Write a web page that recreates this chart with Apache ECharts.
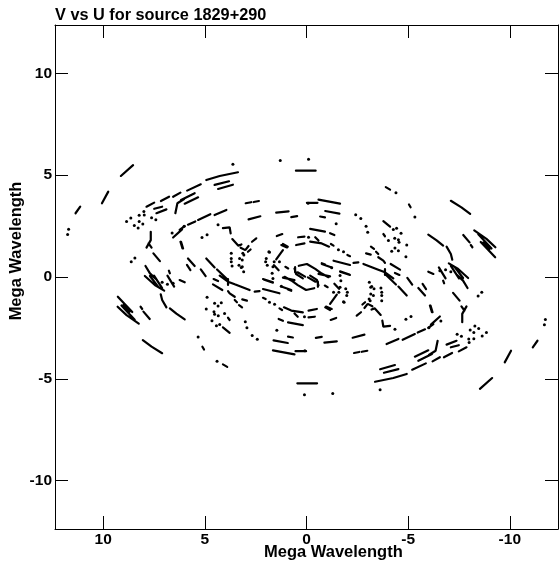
<!DOCTYPE html>
<html><head><meta charset="utf-8">
<script src="https://cdn.jsdelivr.net/npm/echarts@6/dist/echarts.min.js"></script>
<style>html,body{margin:0;padding:0;background:#fff}#c{width:559px;height:563px}</style></head>
<body><div id="c"></div>
<script>
const tickLabels=[10,5,0,-5,-10];
// Each track: u,v,u,v,... in mega wavelengths
const tracksLeft=[
[9.13,4.96,8.53,5.49],[10.06,3.62,9.75,4.19],[11.36,3.13,11.13,3.45],[7.87,3.45,7.49,3.65],[7.16,3.73,6.76,3.94],[6.56,3.94,6.2,4.14],[7.49,3.35,7.1,3.45],[7.38,3.13,6.89,3.32],[6.45,3.13,6.35,3.62,6.02,3.83],[7.66,2.22,7.66,1.81,7.87,1.44],[7.77,1.65,7.62,1.44],[6.56,1.94,6.12,2.34],[6.17,1.73,6.07,1.4],[7.53,1.16,7.21,.78],
[7.92,.54,7.7,.18,7.38,-.12],[7.95,.05,7.46,-.39,7,-.67],[7.7,.05,7.3,-.47],[7.5,.07,7.1,-.55],[6.84,.07,6.51,-.47],[6.77,.31,6.72,.18],[7.17,-.85,7.1,-1.13,6.89,-1.49],[6.72,-1.54,6.4,-1.8,5.99,-2.08],[9.28,-.97,8.57,-1.72],[9.29,-1.46,8.85,-1.87,8.25,-2.29],[9.1,-1.4,8.45,-2.1],[9,-1.37,8.7,-1.7],[8.16,-1.46,8.08,-1.57],[8.02,-1.7,7.71,-2.06],[8.05,-3.1,7.62,-3.42,7.1,-3.74],[6.24,-.15,5.99,-.26],
[.52,5.22,-.45,5.22],[4.93,4.76,4.27,4.96,3.37,5.14],[4.52,4.52,3.81,4.7],[4.35,4.32,3.62,4.53],[5.87,4.24,5.2,4.55],[6.17,3.78,5.5,4.11],[5.99,3.6,5.33,3.91],[2.99,3.62,2.72,3.67],[2.6,3.68,2.34,3.73],[1.49,3.16,.88,3.22],[2.85,2.83,2.27,2.98],[.75,2.94,.46,2.99],[4.52,3.04,3.94,3.29],[5.33,2.8,4.73,3.08],[5.83,2.57,5.47,2.73],[6.24,2.31,5.99,2.5],[4.11,2.4,3.78,2.44,3.73,2.14],[6.2,1.73,6.1,1.4],[3.65,1.86,3.35,1.54,3.2,1.6],[3.24,1.44,3.01,1.32,2.85,1.52],[2.88,1.24,2.75,1.35],[2.68,1.73,2.47,1.9],[1.46,2.01,1.19,2.11],
[1.24,1.57,.96,1.45],[1.16,1.62,.92,1.49],[1.49,.87,1.16,1.32],[1.6,.58,1.37,.33],[1.04,.5,.9,.42],[.41,1.95,.1,1.98],[.51,1.57,.1,1.65],[.59,.42,.51,.14,.18,-.07],[1.16,-.03,.59,-.15],[5.83,.91,5.5,.54],[5.88,.59,5.71,.34],[4.93,.91,4.52,.47],[5.2,.37,4.96,.04],[4.4,.37,3.86,-.15],[2.11,-.12,1.65,-.28],[1.08,.01,.75,-.17,.43,-.4,.02,-.64,-.38,-.55],[-.07,-.02,-.44,-.23],[-.56,-.23,-.56,-.48],
[.91,-.61,.75,-.68],[2.14,-.59,1.33,-.8],[4.57,-.1,4.35,-.2],[4.6,-.36,4.14,-.64],[4.27,.07,3.86,-.23,3.53,-.36,2.8,-.64],[3.86,-.1,3.86,-.39],[2.55,-.72,2.31,-.69],[2.14,-.1,1.65,-.26],[1.24,-.47,.75,-.64],[3.86,-.69,3.78,-.8,3.53,-.97],[3.53,-1.13,3.42,-1.24],[3.32,-1.38,3.17,-1.49],[3.16,-1.1,2.93,-1.16],[3.86,-2,3.78,-2.11],[4.11,-2.47,3.78,-2.74],[5.12,-3.42,5.04,-3.56],[4.11,-4.29,3.9,-4.41],[2.14,-1.02,2.01,-1.08],[1.33,-1.54,1.2,-1.62],[1.11,-1.49,.75,-1.65,.18,-1.74],[.59,-1.79,.43,-1.95],[1.37,-2.06,1.16,-2.15],[.91,-2.23,.18,-2.36],[.91,-2.93,.67,-2.97],[1.62,-3.11,.92,-3.24],[1.65,-3.6,.59,-3.8],[.54,-3.64,.02,-3.64]
];
const tracksRight=[
[-9.13,-4.96,-8.53,-5.49],[-10.06,-3.62,-9.75,-4.19],[-11.36,-3.13,-11.13,-3.45],[-7.87,-3.45,-7.49,-3.65],[-7.16,-3.73,-6.76,-3.94],[-6.56,-3.94,-6.2,-4.14],[-7.49,-3.35,-7.1,-3.45],[-7.38,-3.13,-6.89,-3.32],[-6.45,-3.13,-6.35,-3.62,-6.02,-3.83],[-7.66,-2.22,-7.66,-1.81,-7.87,-1.44],[-7.77,-1.65,-7.62,-1.44],[-6.56,-1.94,-6.12,-2.34],[-6.17,-1.73,-6.07,-1.4],[-7.53,-1.16,-7.21,-.78],
[-7.92,-.54,-7.7,-.18,-7.38,.12],[-7.95,-.05,-7.46,.39,-7,.67],[-7.7,-.05,-7.3,.47],[-7.5,-.07,-7.1,.55],[-6.84,-.07,-6.51,.47],[-6.77,-.31,-6.72,-.18],[-7.17,.85,-7.1,1.13,-6.89,1.49],[-6.72,1.54,-6.4,1.8,-5.99,2.08],[-9.28,.97,-8.57,1.72],[-9.29,1.46,-8.85,1.87,-8.25,2.29],[-9.1,1.4,-8.45,2.1],[-9,1.37,-8.7,1.7],[-8.16,1.46,-8.08,1.57],[-8.02,1.7,-7.71,2.06],[-8.05,3.1,-7.62,3.42,-7.1,3.74],[-6.24,.15,-5.99,.26],
[-.52,-5.22,.45,-5.22],[-4.93,-4.76,-4.27,-4.96,-3.37,-5.14],[-4.52,-4.52,-3.81,-4.7],[-4.35,-4.32,-3.62,-4.53],[-5.87,-4.24,-5.2,-4.55],[-6.17,-3.78,-5.5,-4.11],[-5.99,-3.6,-5.33,-3.91],[-2.99,-3.62,-2.72,-3.67],[-2.6,-3.68,-2.34,-3.73],[-1.49,-3.16,-.88,-3.22],[-2.85,-2.83,-2.27,-2.98],[-.75,-2.94,-.46,-2.99],[-4.52,-3.04,-3.94,-3.29],[-5.33,-2.8,-4.73,-3.08],[-5.83,-2.57,-5.47,-2.73],[-6.24,-2.31,-5.99,-2.5],[-4.11,-2.4,-3.78,-2.44,-3.73,-2.14],[-6.2,-1.73,-6.1,-1.4],[-3.65,-1.86,-3.35,-1.54,-3.2,-1.6],[-3.24,-1.44,-3.01,-1.32,-2.85,-1.52],[-2.88,-1.24,-2.75,-1.35],[-2.68,-1.73,-2.47,-1.9],[-1.46,-2.01,-1.19,-2.11],
[-1.24,-1.57,-.96,-1.45],[-1.16,-1.62,-.92,-1.49],[-1.49,-.87,-1.16,-1.32],[-1.6,-.58,-1.37,-.33],[-1.04,-.5,-.9,-.42],[-.41,-1.95,-.1,-1.98],[-.51,-1.57,-.1,-1.65],[-.59,-.42,-.51,-.14,-.18,.07],[-1.16,.03,-.59,.15],[-5.83,-.91,-5.5,-.54],[-5.88,-.59,-5.71,-.34],[-4.93,-.91,-4.52,-.47],[-5.2,-.37,-4.96,-.04],[-4.4,-.37,-3.86,.15],[-2.11,.12,-1.65,.28],[-1.08,-.01,-.75,.17,-.43,.4,-.02,.64,.38,.55],[.07,.02,.44,.23],[.56,.23,.56,.48],
[-.91,.61,-.75,.68],[-2.14,.59,-1.33,.8],[-4.57,.1,-4.35,.2],[-4.6,.36,-4.14,.64],[-4.27,-.07,-3.86,.23,-3.53,.36,-2.8,.64],[-3.86,.1,-3.86,.39],[-2.55,.72,-2.31,.69],[-2.14,.1,-1.65,.26],[-1.24,.47,-.75,.64],[-3.86,.69,-3.78,.8,-3.53,.97],[-3.53,1.13,-3.42,1.24],[-3.32,1.38,-3.17,1.49],[-3.16,1.1,-2.93,1.16],[-3.86,2,-3.78,2.11],[-4.11,2.47,-3.78,2.74],[-5.12,3.42,-5.04,3.56],[-4.11,4.29,-3.9,4.41],[-2.14,1.02,-2.01,1.08],[-1.33,1.54,-1.2,1.62],[-1.11,1.49,-.75,1.65,-.18,1.74],[-.59,1.79,-.43,1.95],[-1.37,2.06,-1.16,2.15],[-.91,2.23,-.18,2.36],[-.91,2.93,-.67,2.97],[-1.62,3.11,-.92,3.24],[-1.65,3.6,-.59,3.8],[-.54,3.64,-.02,3.64]
];
const dotsLeft=[[11.75,2.09],[11.7,2.35],[8.85,2.72],[8.64,2.9],[8.23,3.03],[8,3.21],[7.98,3.04],[8.47,2.53],[8.28,2.4],[8.23,2.73],[8.05,2.6],[7.62,2.91],[7.41,2.81],[6.61,2.16],[6.02,2.49],[8.62,.75],[8.44,.93],[7.1,-.26],[6.84,-.36],[6.56,-.31],[3.62,5.54],[1.29,5.72],[-.1,5.78],[-.08,3.62],[4.35,2.57],[5.14,1.94],[4.89,2.08],[3.7,1.16],[3.7,.91],[3.7,.75],[3.66,.54],[3.13,1.16],[3.29,.91],[3.32,.58],[3.21,.47],[3.09,.26],[3.08,1.08],[3.16,.83],[3.16,.5],[1.85,1.24],[1.98,.91],[2.01,.75],[1.93,.58],[1.82,1.21],[1.59,.75],[1.65,.5],[1.69,.18],[1.65,-.07],[1.33,.75],[1.24,-.45],[1.82,-1.24],[1.57,-1.34],[.1,-1.95],[4.89,-1],[4.93,-1.57],[4.52,-1.29],[4.35,-1.42],[4.19,-1.26],[4.55,-1.7],[4.52,-1.83],[4.34,-1.9],[4.03,-1.79],[4.65,-2.15],[4.43,-2.39],[4.27,-2.33],[5.33,-2.95],[4.4,-4.13],[3.01,-2.2],[2.93,-2.49],[2.67,-2.87],[2.42,-3.05],[1.46,-2.62]];
const dotsRight=[[-11.75,-2.09],[-11.7,-2.35],[-8.85,-2.72],[-8.64,-2.9],[-8.23,-3.03],[-8,-3.21],[-7.98,-3.04],[-8.47,-2.53],[-8.28,-2.4],[-8.23,-2.73],[-8.05,-2.6],[-7.62,-2.91],[-7.41,-2.81],[-6.61,-2.16],[-6.02,-2.49],[-8.62,-.75],[-8.44,-.93],[-7.1,.26],[-6.84,.36],[-6.56,.31],[-3.62,-5.54],[-1.29,-5.72],[.1,-5.78],[.08,-3.62],[-4.35,-2.57],[-5.14,-1.94],[-4.89,-2.08],[-3.7,-1.16],[-3.7,-.91],[-3.7,-.75],[-3.66,-.54],[-3.13,-1.16],[-3.29,-.91],[-3.32,-.58],[-3.21,-.47],[-3.09,-.26],[-3.08,-1.08],[-3.16,-.83],[-3.16,-.5],[-1.85,-1.24],[-1.98,-.91],[-2.01,-.75],[-1.93,-.58],[-1.82,-1.21],[-1.59,-.75],[-1.65,-.5],[-1.69,-.18],[-1.65,.07],[-1.33,-.75],[-1.24,.45],[-1.82,1.24],[-1.57,1.34],[-.1,1.95],[-4.89,1],[-4.93,1.57],[-4.52,1.29],[-4.35,1.42],[-4.19,1.26],[-4.55,1.7],[-4.52,1.83],[-4.34,1.9],[-4.03,1.79],[-4.65,2.15],[-4.43,2.39],[-4.27,2.33],[-5.33,2.95],[-4.4,4.13],[-3.01,2.2],[-2.93,2.49],[-2.67,2.87],[-2.42,3.05],[-1.46,2.62]];

const lineData=[];
tracksLeft.concat(tracksRight).forEach(t=>{
  for(let i=0;i<t.length;i+=2) lineData.push([t[i],t[i+1]]);
  lineData.push(['-','-']);
});
const black='#000';
const font='"Liberation Sans",Arial,sans-serif';
function axis(pos,labels,extra){
  return Object.assign({type:'value',position:pos,min:-12.37,max:12.37,scale:false,
    axisLine:{show:true,onZero:false,lineStyle:{color:black,width:1}},
    splitLine:{show:false},
    axisTick:{show:true,inside:true,length:13,customValues:tickLabels,lineStyle:{color:black,width:1}},
    axisLabel:{show:labels,customValues:tickLabels,color:black,fontFamily:font,fontWeight:'bold',fontSize:15.5,margin:3}},extra||{});
}
const chart=echarts.init(document.getElementById('c'),null,{renderer:'canvas'});
chart.setOption({
  animation:false,backgroundColor:'#fff',
  grid:{left:55,right:1,top:25,bottom:34,containLabel:false},
  xAxis:[axis('bottom',true,{inverse:true}),axis('top',false,{inverse:true})],
  yAxis:[axis('left',true),axis('right',false)],
  series:[
    {type:'line',data:lineData,xAxisIndex:0,yAxisIndex:0,showSymbol:false,connectNulls:false,silent:true,
      lineStyle:{color:black,width:2.2,cap:'round'}},
    {type:'scatter',data:dotsLeft.concat(dotsRight),xAxisIndex:0,yAxisIndex:0,symbolSize:3,silent:true,
      itemStyle:{color:black,opacity:1}}
  ],
  graphic:[
    {type:'text',left:55,top:8,style:{text:'V vs U for source 1829+290',fill:black,font:'bold 16.3px '+font}},
    {type:'text',left:264,top:544,style:{text:'Mega Wavelength',fill:black,font:'bold 16.5px '+font}},
    {type:'text',x:16,y:251,rotation:Math.PI/2,style:{text:'Mega Wavelength',fill:black,font:'bold 16.5px '+font,align:'center',verticalAlign:'middle'}}
  ]
});
</script></body></html>
